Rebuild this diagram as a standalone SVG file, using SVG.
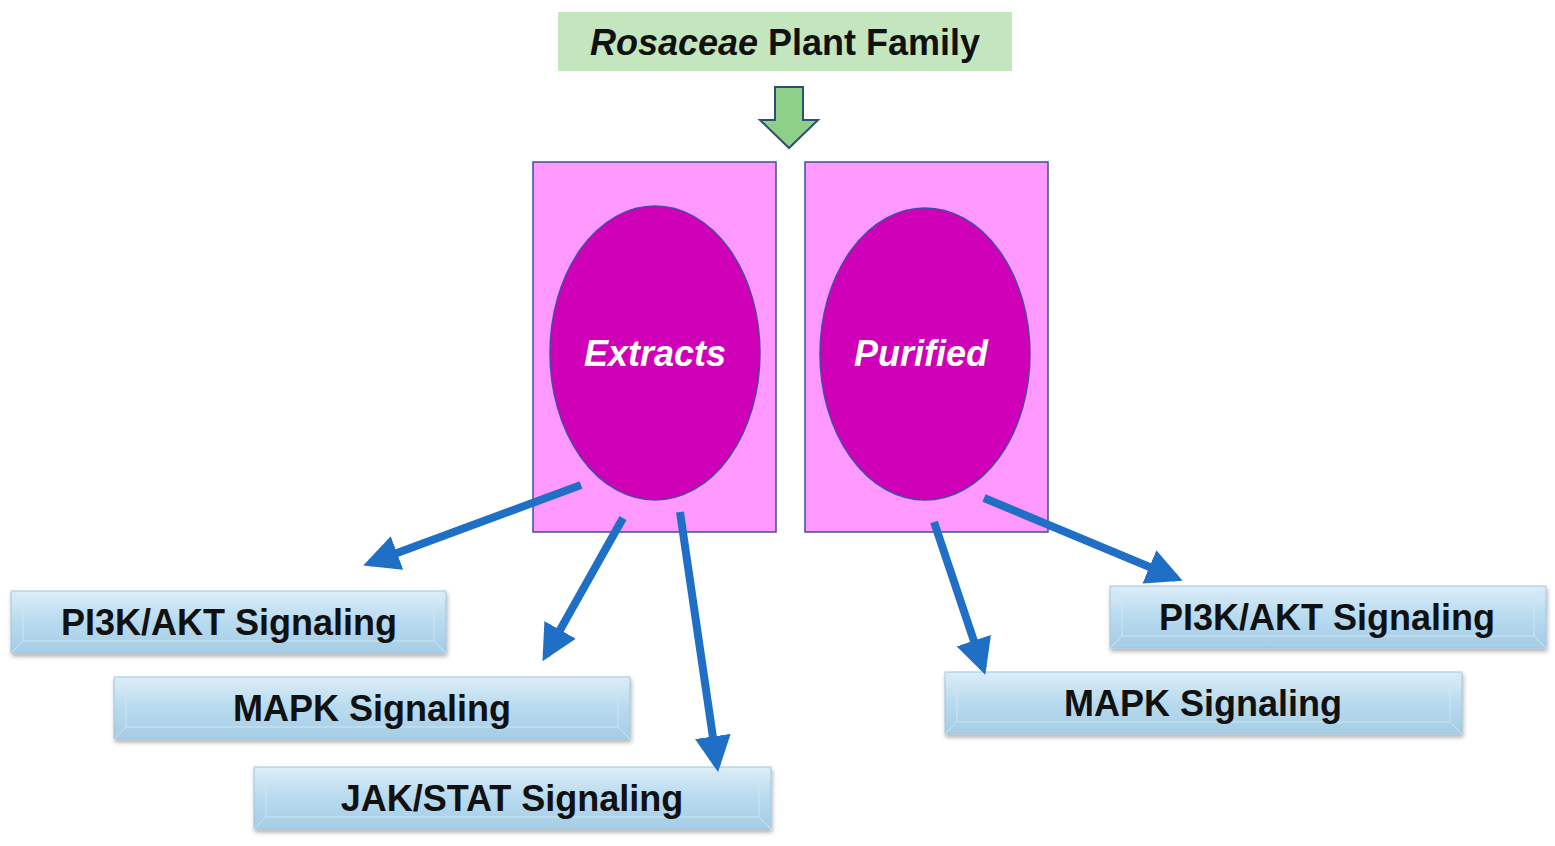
<svg xmlns="http://www.w3.org/2000/svg" width="1555" height="846" viewBox="0 0 1555 846">
<defs>
<linearGradient id="bg" x1="0" y1="0" x2="0" y2="1">
<stop offset="0" stop-color="#ddeef8"/><stop offset="0.5" stop-color="#b7daee"/><stop offset="1" stop-color="#a6cde6"/>
</linearGradient>
<filter id="sh" x="-5%" y="-20%" width="110%" height="150%"><feDropShadow dx="1" dy="3" stdDeviation="2" flood-color="#000" flood-opacity="0.3"/></filter>
<marker id="ah" viewBox="0 0 10 10" refX="8" refY="5" markerWidth="4.5" markerHeight="4.5" orient="auto" markerUnits="strokeWidth"><path d="M0,0 L10,5 L0,10 z" fill="#1f6fc6"/></marker>
</defs>
<style>
.lbl{font-family:"Liberation Sans",Arial,sans-serif;font-weight:bold;font-size:36px;fill:#111;text-anchor:middle}
.el{font-family:"Liberation Sans",Arial,sans-serif;font-weight:bold;font-style:italic;font-size:36px;fill:#fff;text-anchor:middle}
.box{fill:url(#bg);stroke:#9fc3dc;stroke-width:1;filter:url(#sh)}
.bev{fill:none;stroke:#cfe4f2;stroke-width:1}
.conn line{stroke:#1f6fc6;stroke-width:8;marker-end:url(#ah)}
</style>
<rect width="1555" height="846" fill="#fff"/>
<g id="title"><rect x="558" y="12" width="454" height="59" fill="#c4e6be"/>
<text x="785" y="55" class="lbl" fill="#111"><tspan font-style="italic">Rosaceae</tspan> Plant Family</text></g>
<g id="down-arrow"><path d="M775,87 H803 V120 H818 L789,148 L760,120 H775 Z" fill="#8fd088" stroke="#2e4f72" stroke-width="2"/></g>
<g id="extracts"><rect x="533" y="162" width="243" height="370" fill="#ff99ff" stroke="#3c4f9a" stroke-width="1.5"/>
<ellipse cx="655" cy="353" rx="105" ry="147" fill="#d000b8" stroke="#4a4aa0" stroke-width="1.5"/>
<text x="655" y="366" class="el">Extracts</text></g>
<g id="purified"><rect x="805" y="162" width="243" height="370" fill="#ff99ff" stroke="#3c4f9a" stroke-width="1.5"/>
<ellipse cx="925" cy="354" rx="105" ry="146" fill="#d000b8" stroke="#4a4aa0" stroke-width="1.5"/>
<text x="921" y="366" class="el">Purified</text></g>
<g id="b1"><rect class="box" x="11" y="591" width="435" height="62"/><path class="bev" d="M11,591 L23,603 H434 L446,591 M23,603 V641 H434 V603 M11,653 L23,641 M446,653 L434,641"/><text x="229" y="635" class="lbl">PI3K/AKT  Signaling</text></g>
<g id="b2"><rect class="box" x="114" y="677" width="516" height="62"/><path class="bev" d="M114,677 L126,689 H618 L630,677 M126,689 V727 H618 V689 M114,739 L126,727 M630,739 L618,727"/><text x="372" y="721" class="lbl">MAPK Signaling</text></g>
<g id="b3"><rect class="box" x="254" y="767" width="517" height="62"/><path class="bev" d="M254,767 L266,779 H759 L771,767 M266,779 V817 H759 V779 M254,829 L266,817 M771,829 L759,817"/><text x="512" y="811" class="lbl">JAK/STAT Signaling</text></g>
<g id="b4"><rect class="box" x="1110" y="586" width="436" height="62"/><path class="bev" d="M1110,586 L1122,598 H1534 L1546,586 M1122,598 V636 H1534 V598 M1110,648 L1122,636 M1546,648 L1534,636"/><text x="1327" y="630" class="lbl">PI3K/AKT  Signaling</text></g>
<g id="b5"><rect class="box" x="945" y="672" width="517" height="62"/><path class="bev" d="M945,672 L957,684 H1450 L1462,672 M957,684 V722 H1450 V684 M945,734 L957,722 M1462,734 L1450,722"/><text x="1203" y="716" class="lbl">MAPK Signaling</text></g>
<g class="conn" id="connectors">
<line x1="581" y1="485" x2="370" y2="563"/>
<line x1="623" y1="518" x2="546" y2="655"/>
<line x1="680" y1="512" x2="717" y2="765"/>
<line x1="934" y1="522" x2="983" y2="668"/>
<line x1="984" y1="498" x2="1176" y2="578"/>
</g>
</svg>
